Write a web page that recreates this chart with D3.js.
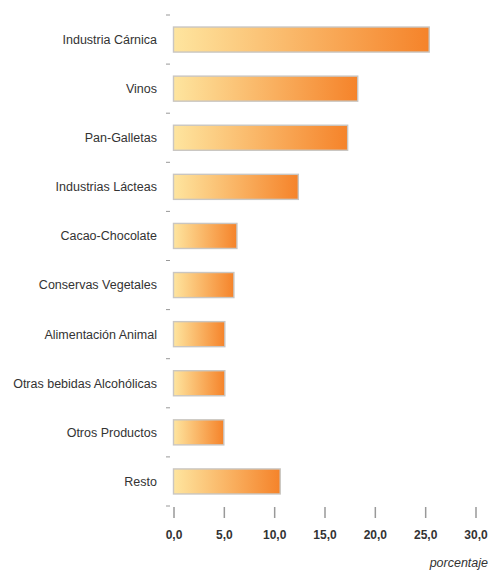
<!DOCTYPE html>
<html><head><meta charset="utf-8">
<script src="https://cdn.jsdelivr.net/npm/d3@7"></script>
<style>body{margin:0;background:#fff}svg{display:block}</style>
</head><body>
<script>
const categories = ["Industria Cárnica","Vinos","Pan-Galletas","Industrias Lácteas","Cacao-Chocolate","Conservas Vegetales","Alimentación Animal","Otras bebidas Alcohólicas","Otros Productos","Resto"];
const values = [25.4, 18.3, 17.3, 12.4, 6.3, 6.0, 5.1, 5.1, 5.0, 10.6];
const xTicks = [0,5,10,15,20,25,30];
const xTitle = "porcentaje";

const W=491,H=570;
const svg=d3.select("body").append("svg").attr("width",W).attr("height",H);
const defs=svg.append("defs");
const g=defs.append("linearGradient").attr("id","grad").attr("x1","0").attr("x2","1").attr("y1","0").attr("y2","0");
g.append("stop").attr("offset","0").attr("stop-color","#fee59f");
g.append("stop").attr("offset","1").attr("stop-color","#f5832a");

const x=d3.scaleLinear().domain([0,30]).range([173.5,475.5]);
const y=d3.scaleBand().domain(categories).range([15,506]).paddingInner(0.49).paddingOuter(0.245);

// bars
svg.append("g").selectAll("rect").data(values).join("rect")
  .attr("x",x(0)).attr("y",(d,i)=>y(categories[i]))
  .attr("width",d=>x(d)-x(0)).attr("height",y.bandwidth())
  .attr("fill","url(#grad)").attr("stroke","#c9c6c2").attr("stroke-width",1.4);

// y axis category labels
const fontF="'Liberation Sans', Arial, sans-serif";
svg.append("g").selectAll("text").data(categories).join("text")
  .attr("x",157).attr("y",d=>y(d)+y.bandwidth()/2).attr("dy","0.35em")
  .attr("text-anchor","end").attr("font-family",fontF).attr("font-size",12.5)
  .attr("fill","#333").text(d=>d);

// y tick dashes at band boundaries
const bounds=categories.map(c=>y(c)-y.step()*y.paddingInner()/2).concat([506]);
svg.append("g").selectAll("line").data(bounds).join("line")
  .attr("x1",166).attr("x2",170).attr("y1",d=>d).attr("y2",d=>d)
  .attr("stroke","#999").attr("stroke-width",1);

// x axis
const xa=svg.append("g").attr("transform","translate(0,507)")
  .call(d3.axisBottom(x).tickValues(xTicks).tickSize(11).tickPadding(12).tickFormat(d=>d3.format(".1f")(d).replace(".",",")));
xa.select(".domain").remove();
xa.selectAll(".tick line").attr("stroke","#999").attr("stroke-width",1.5);
xa.selectAll(".tick text").attr("font-family",fontF).attr("font-size",12).attr("font-weight","bold").attr("fill","#333");

svg.append("text").attr("x",488).attr("y",567).attr("text-anchor","end")
  .attr("font-family",fontF).attr("font-size",12.5).attr("font-style","italic").attr("fill","#333").text(xTitle);
</script>
</body></html>
